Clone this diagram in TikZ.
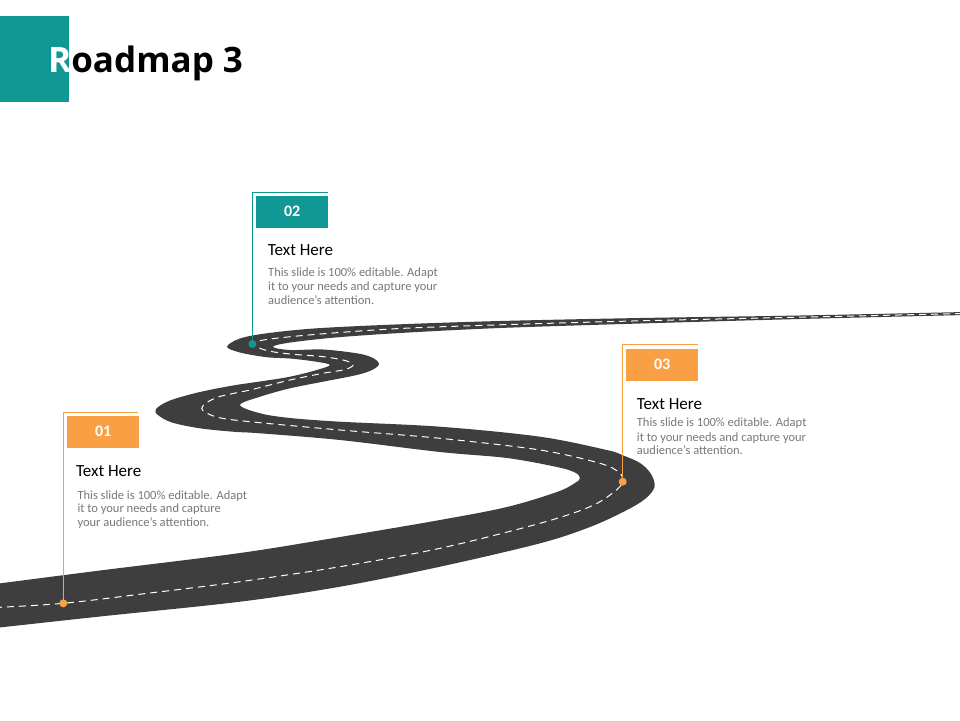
\documentclass[tikz,border=0pt]{standalone}
\usepackage{fontspec}
\setmainfont{Carlito}
\newfontfamily\titlefont{Open Sans}
\definecolor{tealc}{RGB}{16,152,148}
\definecolor{orangec}{RGB}{250,160,68}
\definecolor{roadc}{RGB}{62,62,62}
\definecolor{bodygray}{RGB}{120,120,120}
\tikzset{
  roadfill/.style={fill=roadc},
  laneline/.style={draw=white, line width=1pt, dash pattern=on 7pt off 5pt},
  flagline/.style={line width=1pt},
  numbox/.style={minimum width=72pt, minimum height=32pt, inner sep=0pt, text=white, font=\bfseries\fontsize{16}{18}\selectfont},
  headtxt/.style={anchor=base west, inner sep=0pt, font=\fontsize{17}{20}\selectfont, text=black},
  bodytxt/.style={anchor=base west, inner sep=0pt, font=\fontsize{12.5}{14}\selectfont, text=bodygray},
  roaddot/.style={circle, inner sep=0pt, minimum size=8pt},
}
\begin{document}
\begin{tikzpicture}[x=1pt,y=-1pt]
\useasboundingbox (0,0) rectangle (960,720);
\fill[white] (0,0) rectangle (960,720);
% title
\fill[tealc] (0,16) rectangle (69,102);
\node[anchor=base west, inner sep=0pt, font=\titlefont\bfseries\fontsize{35}{40}\selectfont] (title) at (48,72) {{\color{white}R}oadmap 3};
% road
\begin{scope}
\clip (0,0) rectangle (960,720);
\fill[roadfill] plot[smooth, tension=0.55] coordinates {
 (-5,584) (100,570.5) (240,553) (340,537) (440,520) (507,507) (557,492) (575,483) (580,478) (575,472.5) (557,467) (507,458) (440,452) (340,440) (260,433.3) (233,431.7) (200,428.3) (172,422.5) (158,415) (156,409) (170,400.5) (200,392) (233,385.5) (260,381.5) (290,376.7) (315,370.5) (330,365) (315,361.5) (290,358.5) (266.7,357.2) (240,352.5) (227,346.7) (240,338.5) (266.7,333.3) (316.7,328.3) (400,324.3) (500,321) (640,318) (800,315.5) (965,312)}
 -- plot[smooth, tension=0.55] coordinates {
 (965,315) (800,319) (640,323.5) (500,328) (400,333) (333,337.7) (287,343) (273,347) (290,350) (323,349.5) (356.7,353.3) (372,357.5) (379,364) (372,370) (356.7,375) (323,381.7) (290,388.3) (260,396.7) (240,405) (260,413.3) (290,418) (340,421.7) (440,426.7) (540,436.7) (606.7,450) (622,455) (640,463) (651,474) (654.5,487) (645,499) (625,511) (590,527) (540,543.3) (440,566.7) (340,586.7) (240,601.7) (100,616.5) (-5,628)} -- cycle;
\draw[laneline] plot[smooth, tension=0.55] coordinates {
 (-5,607.5) (63.3,603.3) (150,593) (240,581.7) (340,566.7) (440,548.3) (540,523.3) (590,506.7) (614,492) (622.7,481.7) (619,472.5) (600,463.3) (540,450) (440,438.3) (340,430) (250,421.7) (216.7,417) (201.7,408.3) (216.7,397.5) (250,390) (290,380) (323,373.3) (345,369.5) (353,365) (345,360.5) (323,356.7) (290,354) (266.7,350.5) (252.3,344) (266.7,339.5) (316.7,334.3) (400,328.5) (500,324.8) (640,320.8) (800,317.2) (965,313.5)};
\end{scope}
% flag 01
\node[roaddot, fill=orangec] (d1) at (63.3,603.3) {};
\coordinate (t1) at (63.3,412.7);
\coordinate (e1) at (138.3,412.7);
\draw[flagline, orangec] (d1.center) -- (t1) -- (e1);
\node[numbox, fill=orangec, anchor=north west] (b1) at (67,415.5) {01};
\node[headtxt] (h1) at (76,476.7) {Text Here};
\node[bodytxt] (p1a) at (77.3,499) {This slide is 100\% editable. Adapt};
\node[bodytxt] (p1b) at (77.3,512.7) {it to your needs and capture};
\node[bodytxt] (p1c) at (77.3,526.5) {your audience's attention.};
% flag 02
\node[roaddot, fill=tealc] (d2) at (252.3,344) {};
\coordinate (t2) at (252.3,192.3);
\coordinate (e2) at (328,192.3);
\draw[flagline, tealc] (d2.center) -- (t2) -- (e2);
\node[numbox, fill=tealc, anchor=north west] (b2) at (256,195.5) {02};
\node[headtxt] (h2) at (267.7,255) {Text Here};
\node[bodytxt] (p2a) at (268,276.7) {This slide is 100\% editable. Adapt};
\node[bodytxt] (p2b) at (268,290.7) {it to your needs and capture your};
\node[bodytxt] (p2c) at (268,304.5) {audience's attention.};
% flag 03
\node[roaddot, fill=orangec] (d3) at (622.7,481.7) {};
\coordinate (t3) at (622.7,344.3);
\coordinate (e3) at (697.7,344.3);
\draw[flagline, orangec] (d3.center) -- (t3) -- (e3);
\node[numbox, fill=orangec, anchor=north west] (b3) at (626,348.3) {03};
\node[headtxt] (h3) at (636.7,409.3) {Text Here};
\node[bodytxt] (p3a) at (636.7,426.7) {This slide is 100\% editable. Adapt};
\node[bodytxt] (p3b) at (636.7,441) {it to your needs and capture your};
\node[bodytxt] (p3c) at (636.7,454.5) {audience's attention.};
\end{tikzpicture}
\end{document}
